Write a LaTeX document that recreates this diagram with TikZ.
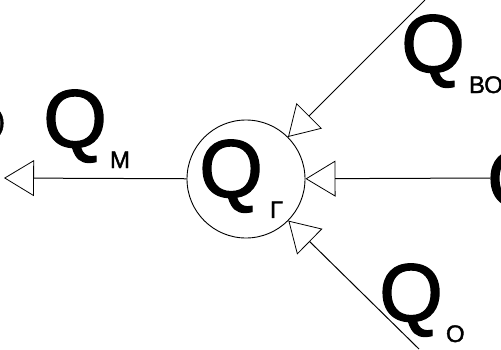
\documentclass[tikz,border=0pt]{standalone}
\usepackage{fontspec}
\setmainfont{Liberation Sans}
\newfontfamily\heavyfont[FakeBold=1.6]{Liberation Sans}
\usetikzlibrary{arrows.meta}

\newcommand{\qlab}[2][4pt]{{\fontsize{82}{82}\selectfont Q}\kern#1\raisebox{-21pt}{\fontsize{24}{24}\selectfont #2}}

\tikzset{
  lab/.style={inner sep=0pt, anchor=base west, font=\heavyfont},
  flow/.style={line width=1pt, -{Triangle[open, length=30pt, width=36pt, line width=0.8pt]}}
}

\begin{document}
\begin{tikzpicture}[x=1pt, y=-1pt]
        \useasboundingbox (0,0) rectangle (501,349);
        \clip (0,0) rectangle (501,349);
        %Generation
        \node[circle, draw, line width=0.9pt, minimum size=118pt, inner sep=0pt] (gen) at (246,179) {};
        \node[lab] (qg) at (199,197) {\qlab[7pt]{Г}};
        %Out
        \coordinate (mout) at (4,178);
        \draw[flow] (gen) -- (mout);
        \node[lab] (qm) at (43,147) {\qlab[3pt]{М}};
        \node[lab, font=\heavyfont\fontsize{30}{30}\selectfont] (lpar) at (-5,131) {)};
        %Right
        \coordinate (rin) at (490,178);
        \draw[flow] (rin) -- (gen);
        \node[lab, font=\heavyfont\fontsize{82}{82}\selectfont] (qr) at (487,207) {Q};
        %Top
        \coordinate (voin) at (425,0);
        \draw[flow] (voin) -- (gen);
        \node[lab] (qvo) at (401,72) {\qlab[4pt]{ВО}};
        %Bottom
        \coordinate (oin) at (419,349);
        \draw[flow] (oin) -- (gen);
        \node[lab] (qo) at (379,321) {\qlab[3pt]{О}};
\end{tikzpicture}
\end{document}
